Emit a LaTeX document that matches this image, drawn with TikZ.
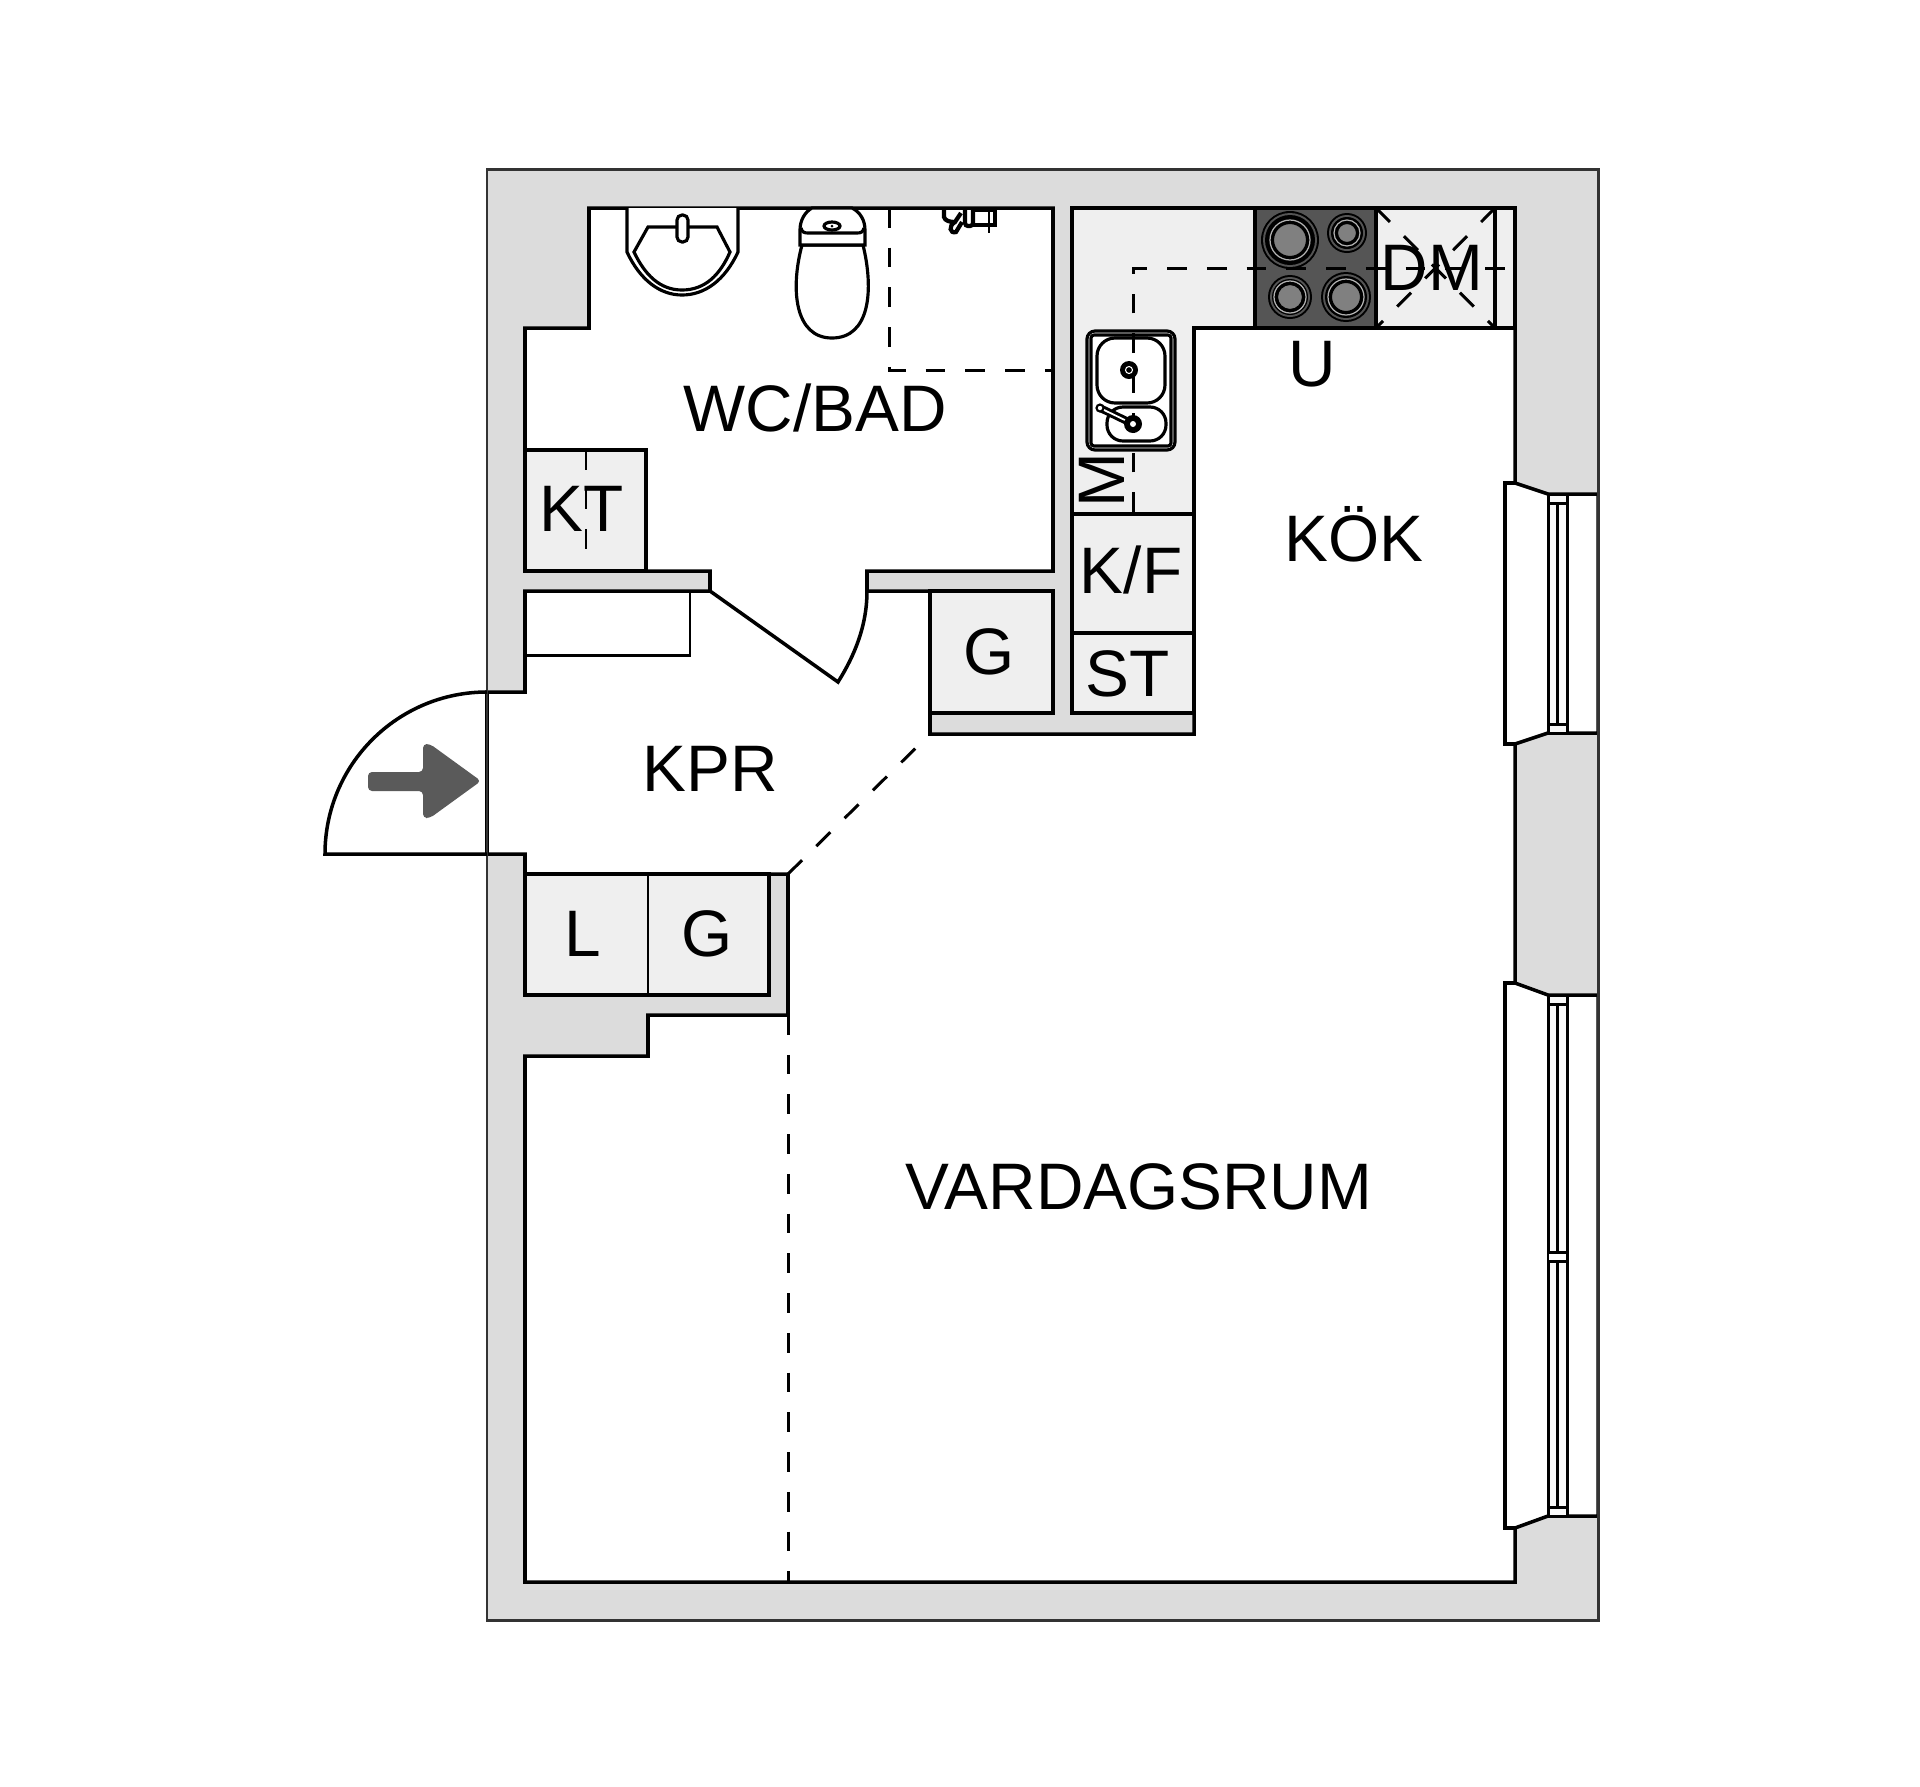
\documentclass[tikz,border=0pt]{standalone}
\usepackage{fontspec}
\setmainfont{Liberation Sans}
\definecolor{wall grey}{HTML}{DCDCDC}
\definecolor{unit grey}{HTML}{EFEFEF}
\definecolor{hob grey}{HTML}{555555}
\definecolor{plate grey}{HTML}{808080}
\definecolor{arrow grey}{HTML}{5A5A5A}

\begin{document}
\begin{tikzpicture}[x=0.01cm,y=-0.01cm,line width=1pt,line join=miter,
                    thin line/.style={line width=0.85pt},
                    unit box/.style={draw,fill=unit grey},
                    fitting/.style={draw,fill=white,line width=0.9pt},
                    plan dash/.style={line width=0.85pt,dash pattern=on 5.6pt off 5.7pt},
                    room label/.style={font=\fontsize{18.7}{23}\selectfont,inner sep=0pt,
                                       text height=0.48cm,text depth=0pt}]
  \path[use as bounding box,fill=white] (0,0) rectangle (1920,1787);

  % walls and the floor inside them
  \fill[wall grey] (487,169) rectangle (1598,1620);
  \draw[fill=white] (589,208) -- (1053,208) -- (1053,571) -- (867,571) -- (867,591)
    -- (1053,591) -- (1053,713) -- (930,713) -- (930,734) -- (1194,734) -- (1194,713)
    -- (1072,713) -- (1072,208) -- (1515,208) -- (1515,483) -- (1548,494) -- (1598,494)
    -- (1598,733) -- (1548,733) -- (1515,744) -- (1515,983) -- (1548,995) -- (1598,995)
    -- (1598,1516) -- (1548,1516) -- (1515,1528) -- (1515,1582) -- (525,1582) -- (525,1056)
    -- (648,1056) -- (648,1015) -- (788,1015) -- (788,874) -- (769,874) -- (769,995)
    -- (525,995) -- (525,854) -- (487,854) -- (487,692) -- (525,692) -- (525,591)
    -- (710,591) -- (710,571) -- (525,571) -- (525,328) -- (589,328) -- cycle;
  \draw[thin line,black!80] (487,169) rectangle (1598,1620);

  % windows
  \draw (1515,483) -- (1505,483) -- (1505,744) -- (1515,744);
  \draw (1515,983) -- (1505,983) -- (1505,1528) -- (1515,1528);
  \foreach \wt/\wb in {494/733,995/1516}{
    \draw[thin line,fill=unit grey!40] (1548,\wt) rectangle (1567,\wb);
    \draw[thin line] (1548,\wt+9) -- (1567,\wt+9) (1548,\wb-9) -- (1567,\wb-9);
    \draw (1557.5,\wt+9) -- (1557.5,\wb-9);
  }
  \fill[white] (1549,1253) rectangle (1566,1260);
  \draw[thin line] (1548,1252) -- (1567,1252) (1548,1261) -- (1567,1261);

  % fitted units
  \draw[unit box] (525,450) rectangle (646,571);
  \draw[unit box] (525,874) rectangle (769,995);
  \draw[thin line] (648,874) -- (648,995);
  \draw[unit box] (930,591) rectangle (1053,713);
  \draw[thin line] (525,591) -- (525,655) -- (690,655) -- (690,591);
  \draw[unit box] (1072,208) -- (1515,208) -- (1515,328) -- (1194,328) -- (1194,713)
    -- (1072,713) -- cycle;
  \draw (1072,514) -- (1194,514) (1072,633) -- (1194,633);
  \draw (1495,208) -- (1495,328);

  % hob
  \draw[fill=hob grey] (1255,208) rectangle (1376,328);
  \foreach \px/\py/\pr/\pi in {1290/240/29/17,1347/233/20/10,1290/297/22/13,1346/297/25/15}{
    \fill[black] (\px,\py) circle (\pr);
    \fill[hob grey] (\px,\py) circle (\pr-2);
    \fill[black] (\px,\py) circle (\pr-4);
    \draw[line width=0.35pt,white!70!black] (\px,\py) circle (\pi+3);
    \draw[line width=0.6pt,fill=plate grey] (\px,\py) circle (\pi);
  }

  % sink
  \draw[fitting,rounded corners=0.08cm] (1087,331) rectangle (1175,450);
  \draw[fitting,rounded corners=0.03cm] (1091,335) rectangle (1171,446);
  \draw[fitting,rounded corners=0.18cm] (1097,338) rectangle (1165,403);
  \draw[fitting,rounded corners=0.16cm] (1107,407) rectangle (1166,441);

  % dashed outlines
  \draw[plan dash] (1133,512) -- (1133,268) -- (1515,268);
  \draw[plan dash] (1376,208) -- (1495,328);
  \draw[plan dash] (1495,208) -- (1376,328);
  \draw[plan dash] (586,450) -- (586,552);
  \draw[plan dash] (889,208) -- (889,370) -- (1053,370);
  \draw[plan dash] (788,874) -- (930,734);
  \draw[plan dash] (788,1015) -- (788,1582);

  % taps on the sink
  \fill[black] (1129,370) circle (9);
  \draw[line width=0.3pt,white] (1129,370) circle (3.5);
  \draw[line width=2.2pt,line cap=round] (1100,408) -- (1133,424);
  \draw[line width=0.5pt,white,line cap=round] (1102,409) -- (1131,423);
  \fill[black] (1133,424) circle (9);
  \fill[white] (1133,424) circle (3);
  \draw[line width=0.6pt,fill=white] (1100,408) circle (3.5);

  % basin
  \draw[fitting] (627,208) -- (627,252) .. controls (640,280) and (660,295) .. (682,295)
    .. controls (705,295) and (725,280) .. (738,252) -- (738,208);
  \draw[fitting] (634,252) -- (648,227) -- (717,227) -- (730,252)
    .. controls (720,275) and (705,290) .. (682,290)
    .. controls (660,290) and (645,275) .. (634,252) -- cycle;
  \draw[fitting,rounded corners=0.05cm] (677,215) rectangle (688,242);

  % toilet
  \draw[fitting] (802,245) .. controls (790,290) and (795,338) .. (832,338)
    .. controls (870,338) and (874,290) .. (863,245) -- cycle;
  \draw[fitting] (800,245) -- (800,230) .. controls (800,220) and (805,212) .. (812,208)
    -- (852,208) .. controls (860,212) and (865,220) .. (865,230) -- (865,245) -- cycle;
  \draw[fitting] (801,228) .. controls (802,232) and (804,233) .. (808,233) -- (857,233)
    .. controls (861,233) and (863,232) .. (864,228);
  \draw[fitting] (832,226) ellipse (8 and 4);
  \fill[black] (832,226) circle (1.5);

  % shower tap
  \draw[line width=1.2pt] (944,208) -- (944,217) .. controls (945,221) and (950,222) .. (955,222)
    -- (961,213) (955,222) .. controls (948,226) and (950,234) .. (956,232) -- (962,222);
  \draw[line width=1.2pt,rounded corners=0.03cm] (965,208) -- (965,226) -- (973,226) -- (973,208);
  \draw[line width=1.1pt] (973,210) rectangle (995,225);
  \draw[line width=0.7pt] (989,208) -- (989,233);

  % doors
  \draw (487,692) .. controls (397.5,692) and (325,764.5) .. (325,854) -- (487,854);
  \draw (710,591) -- (838,682) .. controls (855,655) and (867,625) .. (867,591);

  % entrance arrow
  \fill[arrow grey,rounded corners=0.04cm] (368,772) -- (423,772) -- (423,744) -- (430,744)
    -- (481,781) -- (430,818) -- (423,818) -- (423,791) -- (368,791) -- cycle;

  % labels
  \node[room label] (wcbad) at (815,407) {WC/BAD};
  \node[room label] (kt) at (582,507) {KT};
  \node[room label] (kok) at (1354,537) {KÖK};
  \node[room label] (hood) at (1312,362) {U};
  \node[room label] (dish) at (1432,266) {DM};
  \node[room label,rotate=90] (micro) at (1100,480) {M};
  \node[room label] (fridge) at (1131,569) {K/F};
  \node[room label] (stove) at (1128,672) {ST};
  \node[room label] (closet) at (989,650) {G};
  \node[room label] (hall) at (710,767) {KPR};
  \node[room label] (linen) at (583,932) {L};
  \node[room label] (wardrobe) at (707,932) {G};
  \node[room label] (living) at (1139,1185) {VARDAGSRUM};
\end{tikzpicture}
\end{document}
